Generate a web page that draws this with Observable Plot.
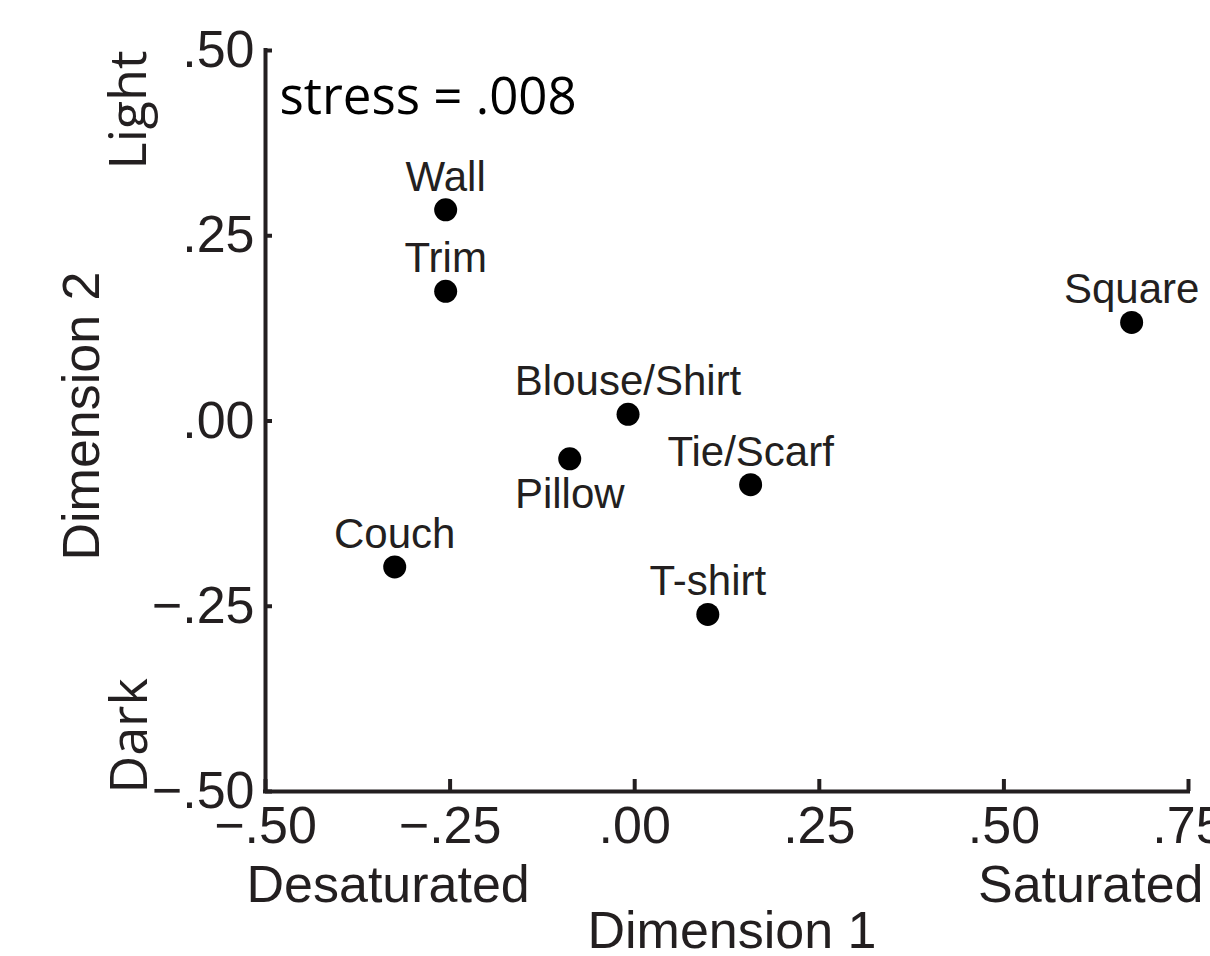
<!DOCTYPE html>
<html>
<head>
<meta charset="utf-8">
<script src="https://cdn.jsdelivr.net/npm/d3@7"></script>
<script src="https://cdn.jsdelivr.net/npm/@observablehq/plot@0.6"></script>
<style>
  html, body { margin: 0; padding: 0; background: #fff; }
  #chart svg { display: block; }
</style>
</head>
<body>
<div id="chart"></div>
<script>
// ---- data ----
const objects = ["Wall", "Trim", "Square", "Blouse/Shirt", "Pillow", "Tie/Scarf", "Couch", "T-shirt"];
const dimension1 = [-0.256, -0.256, 0.673, -0.009, -0.088, 0.157, -0.325, 0.099];
const dimension2 = [0.285, 0.175, 0.133, 0.009, -0.051, -0.086, -0.197, -0.261];
const labelSide = ["above", "above", "above", "above", "below", "above", "above", "above"];

const xTicks = [-0.5, -0.25, 0, 0.25, 0.5, 0.75];
const xTickLabels = ["\u2212.50", "\u2212.25", ".00", ".25", ".50", ".75"];
const yTicks = [-0.5, -0.25, 0, 0.25, 0.5];
const yTickLabels = ["\u2212.50", "\u2212.25", ".00", ".25", ".50"];

const stressLabel = "stress = .008";
const xTitle = "Dimension 1";
const yTitle = "Dimension 2";
const xLowLabel = "Desaturated";
const xHighLabel = "Saturated";
const yHighLabel = "Light";
const yLowLabel = "Dark";

// ---- layout ----
const W = 1210, H = 956;
const mL = 265, mR = 22, mT = 50, mB = 165;
const frameW = W - mL - mR, frameH = H - mT - mB;
const ink = "#231f20";
const sans = "'Liberation Sans', Arial, Helvetica, sans-serif";
const myriad = "'Open Sans', 'Noto Sans', sans-serif";

const points = objects.map((name, i) => ({name, d1: dimension1[i], d2: dimension2[i], side: labelSide[i]}));

const chart = Plot.plot({
  width: W,
  height: H,
  marginLeft: mL,
  marginRight: mR,
  marginTop: mT,
  marginBottom: mB,
  x: {domain: [-0.5, 0.75], axis: null},
  y: {domain: [-0.5, 0.5], axis: null},
  style: {fontFamily: sans, color: ink, background: "#fff", overflow: "visible"},
  marks: [
    // axis lines
    Plot.ruleX([-0.5], {stroke: ink, strokeWidth: 4, strokeLinecap: "square"}),
    Plot.ruleY([-0.5], {stroke: ink, strokeWidth: 4, strokeLinecap: "square"}),
    // inward ticks
    Plot.ruleX(xTicks, {x: d => d, stroke: ink, strokeWidth: 4, insetTop: frameH - 12}),
    Plot.ruleY(yTicks, {y: d => d, stroke: ink, strokeWidth: 4, insetRight: frameW - 7}),
    // tick labels
    Plot.text(xTicks, {x: d => d, y: -0.5, text: (d, i) => xTickLabels[i], dy: 51, lineAnchor: "bottom", textAnchor: "middle", fontSize: 52, fill: ink, fontFamily: sans}),
    Plot.text(yTicks, {x: -0.5, y: d => d, text: (d, i) => yTickLabels[i], dx: -11, lineAnchor: "middle", textAnchor: "end", fontSize: 52, fill: ink, fontFamily: sans}),
    // points
    Plot.dot(points, {x: "d1", y: "d2", r: 11.5, fill: "#000", stroke: null}),
    Plot.text(points.filter(d => d.side === "above"), {x: "d1", y: "d2", text: "name", dy: -19, lineAnchor: "bottom", textAnchor: "middle", fontSize: 42, fill: ink, fontFamily: sans}),
    Plot.text(points.filter(d => d.side === "below"), {x: "d1", y: "d2", text: "name", dy: 49, lineAnchor: "bottom", textAnchor: "middle", fontSize: 42, fill: ink, fontFamily: sans}),
    // stress annotation
    Plot.text([stressLabel], {frameAnchor: "top-left", text: d => d, dx: 14, dy: 63, lineAnchor: "bottom", textAnchor: "start", fontSize: 51, fill: "#000", fontFamily: myriad}),
    // axis titles
    Plot.text([xTitle], {frameAnchor: "bottom", text: d => d, dx: 5, dy: 156, lineAnchor: "bottom", textAnchor: "middle", fontSize: 52, fill: ink, fontFamily: sans}),
    Plot.text([xLowLabel], {frameAnchor: "bottom-left", text: d => d, dx: -19, dy: 110, lineAnchor: "bottom", textAnchor: "start", fontSize: 52, fill: ink, fontFamily: sans}),
    Plot.text([xHighLabel], {frameAnchor: "bottom-right", text: d => d, dx: 15, dy: 110, lineAnchor: "bottom", textAnchor: "end", fontSize: 52, fill: ink, fontFamily: sans}),
    Plot.text([yTitle], {frameAnchor: "left", text: d => d, dx: -167, dy: -5, rotate: -90, lineAnchor: "bottom", textAnchor: "middle", fontSize: 52, fill: ink, fontFamily: sans}),
    Plot.text([yHighLabel], {frameAnchor: "top-left", text: d => d, dx: -120, dy: 119, rotate: -90, lineAnchor: "bottom", textAnchor: "start", fontSize: 52, fill: ink, fontFamily: myriad}),
    Plot.text([yLowLabel], {frameAnchor: "bottom-left", text: d => d, dx: -119, dy: 2, rotate: -90, lineAnchor: "bottom", textAnchor: "start", fontSize: 52, fill: ink, fontFamily: myriad})
  ]
});

document.getElementById("chart").appendChild(chart);
</script>
</body>
</html>
